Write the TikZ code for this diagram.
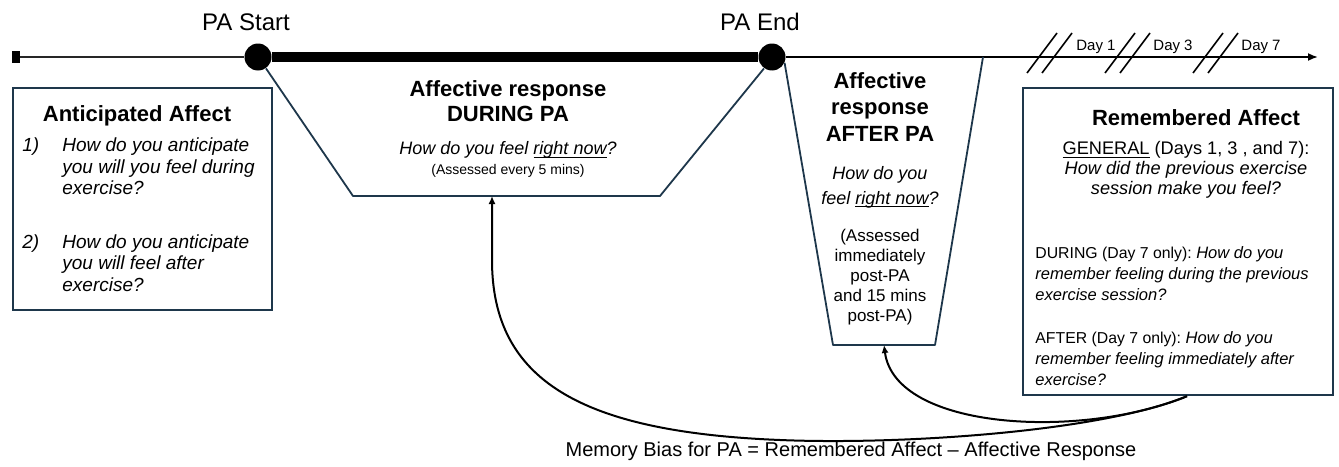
\documentclass[tikz,border=0pt]{standalone}
\usepackage{fontspec}
\setmainfont{Liberation Sans}
\usetikzlibrary{positioning}
\usetikzlibrary{arrows.meta}

\definecolor{navy}{RGB}{30,55,75}

\newcommand{\undr}[1]{\underline{\smash{#1}}}
\frenchspacing

\tikzset{
  box/.style={draw=navy, line width=1.2pt, inner sep=0pt},
  trap/.style={draw=navy, line width=0.9pt, line join=round},
  dot/.style={circle, fill=black, minimum size=13.5pt, inner sep=0pt},
  patext/.style={font=\fontsize{12}{14}\selectfont},
  daytext/.style={font=\fontsize{7.5}{9}\selectfont, inner sep=1pt},
  ttl/.style={align=center, inner sep=0pt, font=\fontsize{11}{12.5}\selectfont\bfseries},
  ask/.style={align=center, inner sep=0pt, font=\fontsize{9}{12.5}\selectfont\itshape},
  small/.style={align=center, inner sep=0pt, font=\fontsize{7}{9}\selectfont},
  note/.style={align=left, anchor=west, inner sep=0pt, font=\fontsize{8.25}{10.5}\selectfont},
  recall/.style={line width=1pt, -{Latex[length=4pt,width=3.5pt]}}
}

\begin{document}
\begin{tikzpicture}[x=0.5pt, y=-0.5pt]
  \useasboundingbox (0,0) rectangle (1339,466);

  % timeline
  \node[fill, minimum width=4pt, minimum height=6pt, inner sep=0pt] (t0) at (16,57) {};
  \node[dot] (start) at (258,57) {};
  \node[dot] (end) at (772,57) {};
  \coordinate (tend) at (1318,57);
  \draw[line width=0.9pt, black!85] (t0) -- (start);
  \draw[line width=5pt] (start) -- (end);
  \draw[line width=0.9pt, -{Latex[length=5pt,width=4pt]}] (end) -- (tend);
  \node[patext] (startlbl) at (246,22) {PA Start};
  \node[patext] (endlbl) at (760,22) {PA End};

  % breaks and days
  \foreach \x in {1027,1042,1105,1120,1193,1208}
    \draw[line width=0.8pt] (\x,73) -- ++(30,-40);
  \foreach \x/\d in {1096/1, 1173/3, 1261/7}
    \node[daytext] (day\d) at (\x,47) {Day \d};

  % affective response during PA
  \draw[trap] (start.-55) -- (353,196) coordinate (dl) -- (660,196) coordinate (dr) -- (end.-125);
  \coordinate (duringB) at (492,196);
  \node[ttl] (durT) at (508,101) {Affective response\\DURING PA};
  \node[ask] (durQ) at (508,150) {How do you feel \undr{right now}?};
  \node[small] (durS) at (508,171) {(Assessed every 5 mins)};

  % affective response after PA
  \draw[trap] (end.-25) -- (833,345) coordinate (al) -- (935,345) coordinate (ar) -- (983,57);
  \coordinate (afterB) at (884,345);
  \node[ttl, font=\fontsize{11}{13.25}\selectfont\bfseries] (aftT) at (880,107) {Affective\\response\\AFTER PA};
  \node[ask] (aftQ) at (880,187) {How do you\\feel \undr{right now}?};
  \node[small, font=\fontsize{8.5}{10}\selectfont] (aftS) at (880,277)
    {(Assessed\\immediately\\post-PA\\and 15 mins\\post-PA)};

  % anticipated affect
  \node[box, minimum width=129.5pt, minimum height=111pt] (antic) at (142.5,199) {};
  \node[ttl] (anticT) at (137,116) {Anticipated Affect};
  \node[anchor=west, inner sep=0pt, font=\fontsize{9.5}{10.75}\selectfont] (anticL) at (22,217)
    {\begin{tabular}{@{}p{20pt}@{}p{100pt}@{}}
     \itshape 1) & \itshape How do you anticipate\newline you will you feel during\newline exercise?\\[16pt]
     \itshape 2) & \itshape How do you anticipate\newline you will feel after\newline exercise?
     \end{tabular}};

  % remembered affect
  \node[box, minimum width=155pt, minimum height=153.5pt] (remembered) at (1178,241.5) {};
  \node[ttl] (remT) at (1196,118) {Remembered Affect};
  \node[align=center, inner sep=0pt, font=\fontsize{9.1}{10}\selectfont] (remG) at (1186,170)
    {\undr{GENERAL} (Days 1, 3 , and 7):\\ \textit{How did the previous exercise}\\
     \textit{session make you feel?}};
  \node[note] (remD) at (1035,274)
    {{\fontsize{7.9}{10.5}\selectfont DURING (Day 7 only):} \textit{How do you}\\
     \textit{remember feeling during the previous}\\ \textit{exercise session?}};
  \node[note] (remA) at (1035,359)
    {{\fontsize{7.9}{10.5}\selectfont AFTER (Day 7 only):} \textit{How do you}\\
     \textit{remember feeling immediately after}\\ \textit{exercise?}};

  % memory bias arrows
  \draw[recall] ([xshift=4.5pt]remembered.south) .. controls (1100,432) and (900,445) .. (780,440)
    .. controls (580,432) and (492,380) .. (492,260) -- (duringB);
  \draw[recall] ([xshift=4.5pt]remembered.south) .. controls (1080,440) and (895,430) .. (afterB);
  \node[font=\fontsize{10}{12}\selectfont] (bias) at (851,451)
    {Memory Bias for PA = Remembered Affect -- Affective Response};
\end{tikzpicture}
\end{document}
